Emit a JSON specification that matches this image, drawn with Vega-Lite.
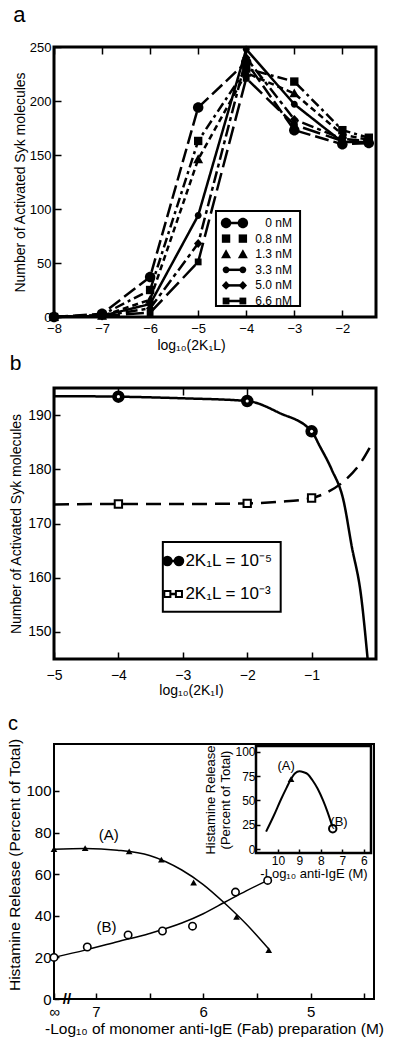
{
"$schema": "https://vega.github.io/schema/vega-lite/v6.json",
"padding": {"left": 7, "top": 2, "right": 0, "bottom": 0},
"config": {
  "font": "Liberation Sans",
  "view": {"stroke": "black", "strokeWidth": 3},
  "axis": {"grid": false, "domain": false, "labelFlush": false, "labelOverlap": false, "tickColor": "black", "tickWidth": 1.5, "labelColor": "black", "titleColor": "black", "titleFontWeight": "normal", "labelFont": "Liberation Sans", "titleFont": "Liberation Sans"},
  "title": {"fontWeight": "normal", "anchor": "start", "color": "black", "font": "Liberation Sans"}
},
"datasets": {
  "a": [
    {"series": "0 nM", "x": -8, "y": 0}, {"series": "0 nM", "x": -7, "y": 3}, {"series": "0 nM", "x": -6, "y": 37}, {"series": "0 nM", "x": -5, "y": 194}, {"series": "0 nM", "x": -4, "y": 236}, {"series": "0 nM", "x": -3, "y": 173}, {"series": "0 nM", "x": -2, "y": 160}, {"series": "0 nM", "x": -1.45, "y": 161},
    {"series": "0.8 nM", "x": -8, "y": 0}, {"series": "0.8 nM", "x": -7, "y": 2}, {"series": "0.8 nM", "x": -6, "y": 25}, {"series": "0.8 nM", "x": -5, "y": 163}, {"series": "0.8 nM", "x": -4, "y": 230}, {"series": "0.8 nM", "x": -3, "y": 218}, {"series": "0.8 nM", "x": -2, "y": 173}, {"series": "0.8 nM", "x": -1.45, "y": 166},
    {"series": "1.3 nM", "x": -8, "y": 0}, {"series": "1.3 nM", "x": -7, "y": 1}, {"series": "1.3 nM", "x": -6, "y": 16}, {"series": "1.3 nM", "x": -5, "y": 146}, {"series": "1.3 nM", "x": -4, "y": 226}, {"series": "1.3 nM", "x": -3, "y": 207}, {"series": "1.3 nM", "x": -2, "y": 169}, {"series": "1.3 nM", "x": -1.45, "y": 164},
    {"series": "3.3 nM", "x": -8, "y": 0}, {"series": "3.3 nM", "x": -7, "y": 1}, {"series": "3.3 nM", "x": -6, "y": 12}, {"series": "3.3 nM", "x": -5, "y": 94}, {"series": "3.3 nM", "x": -4, "y": 248}, {"series": "3.3 nM", "x": -3, "y": 197}, {"series": "3.3 nM", "x": -2, "y": 162}, {"series": "3.3 nM", "x": -1.45, "y": 162},
    {"series": "5.0 nM", "x": -8, "y": 0}, {"series": "5.0 nM", "x": -7, "y": 1}, {"series": "5.0 nM", "x": -6, "y": 8}, {"series": "5.0 nM", "x": -5, "y": 68}, {"series": "5.0 nM", "x": -4, "y": 240}, {"series": "5.0 nM", "x": -3, "y": 183}, {"series": "5.0 nM", "x": -2, "y": 165}, {"series": "5.0 nM", "x": -1.45, "y": 163},
    {"series": "6.6 nM", "x": -8, "y": 0}, {"series": "6.6 nM", "x": -7, "y": 1}, {"series": "6.6 nM", "x": -6, "y": 4}, {"series": "6.6 nM", "x": -5, "y": 51}, {"series": "6.6 nM", "x": -4, "y": 221}, {"series": "6.6 nM", "x": -3, "y": 178}, {"series": "6.6 nM", "x": -2, "y": 163}, {"series": "6.6 nM", "x": -1.45, "y": 161}
  ],
  "a_legend": [
    {"series": "0 nM"}, {"series": "0.8 nM"}, {"series": "1.3 nM"}, {"series": "3.3 nM"}, {"series": "5.0 nM"}, {"series": "6.6 nM"}
  ],
  "b_lines": [
    {"series": "2K₁L = 10⁻⁵", "x": -5, "y": 193.5}, {"series": "2K₁L = 10⁻⁵", "x": -4, "y": 193.4}, {"series": "2K₁L = 10⁻⁵", "x": -3, "y": 193.1}, {"series": "2K₁L = 10⁻⁵", "x": -2, "y": 192.6}, {"series": "2K₁L = 10⁻⁵", "x": -1.5, "y": 190.4}, {"series": "2K₁L = 10⁻⁵", "x": -1, "y": 187}, {"series": "2K₁L = 10⁻⁵", "x": -0.87, "y": 184.2}, {"series": "2K₁L = 10⁻⁵", "x": -0.69, "y": 180}, {"series": "2K₁L = 10⁻⁵", "x": -0.5, "y": 174}, {"series": "2K₁L = 10⁻⁵", "x": -0.38, "y": 166}, {"series": "2K₁L = 10⁻⁵", "x": -0.23, "y": 156.5}, {"series": "2K₁L = 10⁻⁵", "x": -0.13, "y": 145},
    {"series": "2K₁L = 10⁻³", "x": -5, "y": 173.5}, {"series": "2K₁L = 10⁻³", "x": -4, "y": 173.6}, {"series": "2K₁L = 10⁻³", "x": -3, "y": 173.6}, {"series": "2K₁L = 10⁻³", "x": -2, "y": 173.7}, {"series": "2K₁L = 10⁻³", "x": -1.5, "y": 174}, {"series": "2K₁L = 10⁻³", "x": -1, "y": 174.7}, {"series": "2K₁L = 10⁻³", "x": -0.75, "y": 175.8}, {"series": "2K₁L = 10⁻³", "x": -0.48, "y": 178}, {"series": "2K₁L = 10⁻³", "x": -0.25, "y": 181}, {"series": "2K₁L = 10⁻³", "x": -0.05, "y": 185}
  ],
  "b_points": [
    {"series": "2K₁L = 10⁻⁵", "x": -4, "y": 193.4}, {"series": "2K₁L = 10⁻⁵", "x": -2, "y": 192.6}, {"series": "2K₁L = 10⁻⁵", "x": -1, "y": 187},
    {"series": "2K₁L = 10⁻³", "x": -4, "y": 173.6}, {"series": "2K₁L = 10⁻³", "x": -2, "y": 173.7}, {"series": "2K₁L = 10⁻³", "x": -1, "y": 174.7}
  ],
  "b_legend": [
    {"series": "2K₁L = 10⁻⁵"}, {"series": "2K₁L = 10⁻³"}
  ],
  "c_curves": [
    {"curve": "A", "x": 7.39, "y": 72}, {"curve": "A", "x": 7.1, "y": 72.3}, {"curve": "A", "x": 6.8, "y": 71.5}, {"curve": "A", "x": 6.5, "y": 69}, {"curve": "A", "x": 6.2, "y": 62}, {"curve": "A", "x": 6.0, "y": 55}, {"curve": "A", "x": 5.8, "y": 46}, {"curve": "A", "x": 5.6, "y": 36}, {"curve": "A", "x": 5.39, "y": 24},
    {"curve": "B", "x": 7.39, "y": 20}, {"curve": "B", "x": 7.1, "y": 23.5}, {"curve": "B", "x": 6.8, "y": 27.5}, {"curve": "B", "x": 6.5, "y": 31.5}, {"curve": "B", "x": 6.2, "y": 36.5}, {"curve": "B", "x": 6.0, "y": 41}, {"curve": "B", "x": 5.8, "y": 46.5}, {"curve": "B", "x": 5.6, "y": 52}, {"curve": "B", "x": 5.4, "y": 57}
  ],
  "c_points": [
    {"series": "A", "x": 7.39, "y": 72}, {"series": "A", "x": 7.1, "y": 72.5}, {"series": "A", "x": 6.69, "y": 71}, {"series": "A", "x": 6.39, "y": 67}, {"series": "A", "x": 6.09, "y": 56}, {"series": "A", "x": 5.69, "y": 39.5}, {"series": "A", "x": 5.39, "y": 23.5},
    {"series": "B", "x": 7.39, "y": 20}, {"series": "B", "x": 7.08, "y": 25}, {"series": "B", "x": 6.7, "y": 30.8}, {"series": "B", "x": 6.38, "y": 32.7}, {"series": "B", "x": 6.1, "y": 35}, {"series": "B", "x": 5.7, "y": 51.4}, {"series": "B", "x": 5.4, "y": 57}
  ],
  "c_labels": [
    {"label": "(A)", "x": 6.88, "y": 78.8}, {"label": "(B)", "x": 6.9, "y": 34.6}
  ],
  "ins_curve": [
    {"x": 10.55, "y": 18}, {"x": 10.2, "y": 34}, {"x": 9.86, "y": 51}, {"x": 9.6, "y": 63}, {"x": 9.39, "y": 72}, {"x": 9.2, "y": 78}, {"x": 9.0, "y": 80}, {"x": 8.8, "y": 79}, {"x": 8.61, "y": 77}, {"x": 8.4, "y": 71}, {"x": 8.15, "y": 62}, {"x": 7.9, "y": 50}, {"x": 7.69, "y": 38}, {"x": 7.45, "y": 22}
  ],
  "ins_points": [
    {"series": "A", "x": 9.39, "y": 72}, {"series": "B", "x": 7.45, "y": 21}
  ],
  "ins_labels": [
    {"label": "(A)", "x": 9.62, "y": 85}, {"label": "(B)", "x": 7.16, "y": 28}
  ]
},
"spacing": 71,
"bounds": "flush",
"resolve": {"scale": {"shape": "independent", "fill": "independent", "strokeDash": "independent"}},
"vconcat": [
  {
    "width": 322, "height": 270,
    "title": {"text": "a", "fontSize": 22, "baseline": "middle", "offset": 4},
    "layer": [
      {
        "data": {"name": "a"},
        "layer": [
          {
            "data": {"values": [{}]},
            "mark": {"type": "rect", "fill": "white", "stroke": "black", "strokeWidth": 2},
            "encoding": {
              "x": {"datum": -4.63, "type": "quantitative", "axis": null},
              "x2": {"datum": -2.88},
              "y": {"datum": 10.2, "type": "quantitative"},
              "y2": {"datum": 98.1}
            }
          },
          {
            "mark": {"type": "line", "strokeWidth": 2.5, "color": "black"},
            "encoding": {
              "x": {"field": "x", "type": "quantitative", "scale": {"domain": [-8, -1.3], "nice": false, "zero": false},
                    "axis": {"orient": "bottom", "values": [-8, -7, -6, -5, -4, -3, -2], "offset": -7, "tickSize": 7, "labelPadding": 5, "labelFontSize": 13, "title": "log₁₀(2K₁L)", "titleFontSize": 14, "titleX": 137, "titlePadding": 3}},
              "y": {"field": "y", "type": "quantitative", "scale": {"domain": [0, 250], "nice": false},
                    "axis": {"values": [0, 25, 50, 75, 100, 125, 150, 175, 200, 225, 250], "labelExpr": "datum.value % 50 == 0 ? datum.label : ''", "offset": -7, "tickSize": 7, "labelPadding": 3, "labelFontSize": 13, "title": "Number of Activated Syk molecules", "titleFontSize": 14, "titlePadding": 2}},
              "strokeDash": {"field": "series", "type": "nominal",
                    "scale": {"domain": ["0 nM", "0.8 nM", "1.3 nM", "3.3 nM", "5.0 nM", "6.6 nM"], "range": [[14, 5], [10, 4, 3, 4], [6, 4], [1, 0], [12, 4, 4, 4], [18, 6]]}, "legend": null}
            }
          },
          {
            "mark": {"type": "point", "filled": true, "color": "black", "opacity": 1, "size": 110},
            "encoding": {
              "x": {"field": "x", "type": "quantitative", "axis": {"orient": "top", "values": [-8, -7, -6, -5, -4, -3, -2], "labels": false, "title": null, "offset": -7, "tickSize": 7}},
              "y": {"field": "y", "type": "quantitative"},
              "shape": {"field": "series", "type": "nominal",
                    "scale": {"domain": ["0 nM", "0.8 nM", "1.3 nM", "3.3 nM", "5.0 nM", "6.6 nM"],
                              "range": ["M1,0A1,1,0,1,1,-1,0A1,1,0,1,1,1,0Z", "M-0.8,-0.8H0.8V0.8H-0.8Z", "M0,-0.95L0.95,0.75H-0.95Z", "M0.65,0A0.65,0.65,0,1,1,-0.65,0A0.65,0.65,0,1,1,0.65,0Z", "M0,-0.85L0.8,0L0,0.85L-0.8,0Z", "M-0.65,-0.65H0.65V0.65H-0.65Z"]},
                    "legend": null}
            }
          }
        ],
        "resolve": {"axis": {"x": "independent"}}
      },
      {
        "data": {"name": "a_legend"},
        "encoding": {
          "y": {"field": "series", "type": "nominal", "axis": null, "sort": null,
                "scale": {"type": "point", "domain": ["0 nM", "0.8 nM", "1.3 nM", "3.3 nM", "5.0 nM", "6.6 nM"], "range": [176, 254], "padding": 0}}
        },
        "layer": [
          {
            "transform": [{"filter": "datum.series != '0.8 nM' && datum.series != '1.3 nM'"}],
            "mark": {"type": "rule", "strokeWidth": 2.5, "color": "black"},
            "encoding": {"x": {"datum": -4.42, "type": "quantitative", "axis": null}, "x2": {"datum": -4.07}}
          },
          {
            "mark": {"type": "point", "filled": true, "color": "black", "opacity": 1, "size": 110},
            "encoding": {"x": {"datum": -4.42, "type": "quantitative"}, "shape": {"field": "series", "type": "nominal", "legend": null}}
          },
          {
            "mark": {"type": "point", "filled": true, "color": "black", "opacity": 1, "size": 110},
            "encoding": {"x": {"datum": -4.07, "type": "quantitative"}, "shape": {"field": "series", "type": "nominal", "legend": null}}
          },
          {
            "mark": {"type": "text", "align": "right", "fontSize": 12, "color": "black"},
            "encoding": {"x": {"datum": -3.05, "type": "quantitative"}, "text": {"field": "series"}}
          }
        ]
      }
    ],
    "resolve": {"scale": {"y": "independent"}, "axis": {"x": "independent", "y": "independent"}}
  },
  {
    "width": 322, "height": 271,
    "title": {"text": "b", "fontSize": 21, "baseline": "middle", "offset": 2},
    "layer": [
      {
        "layer": [
          {
            "data": {"values": [{}]},
            "mark": {"type": "rect", "fill": "white", "stroke": "black", "strokeWidth": 2},
            "encoding": {
              "x": {"datum": -3.31, "type": "quantitative", "axis": null},
              "x2": {"datum": -1.48},
              "y": {"datum": 153.7, "type": "quantitative"},
              "y2": {"datum": 166.6}
            }
          },
          {
            "data": {"name": "b_lines"},
            "mark": {"type": "line", "strokeWidth": 2.5, "color": "black", "interpolate": "monotone", "clip": true},
            "encoding": {
              "x": {"field": "x", "type": "quantitative", "scale": {"domain": [-5, 0], "nice": false, "zero": false},
                    "axis": {"orient": "bottom", "values": [-5, -4, -3, -2, -1], "offset": -7, "tickSize": 7, "labelPadding": 9, "labelFontSize": 14, "title": "log₁₀(2K₁I)", "titleFontSize": 14, "titleX": 137, "titlePadding": 1}},
              "y": {"field": "y", "type": "quantitative", "scale": {"domain": [145, 195], "nice": false, "zero": false},
                    "axis": {"values": [150, 160, 170, 180, 190], "offset": -6, "tickSize": 6, "labelPadding": 3, "labelFontSize": 14, "title": "Number of Activated Syk molecules", "titleFontSize": 14, "titlePadding": 4}},
              "strokeDash": {"field": "series", "type": "nominal", "scale": {"domain": ["2K₁L = 10⁻⁵", "2K₁L = 10⁻³"], "range": [[1, 0], [15, 8]]}, "legend": null}
            }
          },
          {
            "data": {"name": "b_points"},
            "mark": {"type": "point", "opacity": 1, "strokeWidth": 2, "stroke": "black", "size": 110},
            "encoding": {
              "x": {"field": "x", "type": "quantitative", "axis": {"orient": "top", "values": [-5, -4, -3, -2, -1], "labels": false, "title": null, "offset": -7, "tickSize": 7}},
              "y": {"field": "y", "type": "quantitative"},
              "shape": {"field": "series", "type": "nominal", "scale": {"domain": ["2K₁L = 10⁻⁵", "2K₁L = 10⁻³"], "range": ["M1,0A1,1,0,1,1,-1,0A1,1,0,1,1,1,0Z", "M-0.7,-0.7H0.7V0.7H-0.7Z"]}, "legend": null},
              "fill": {"field": "series", "type": "nominal", "scale": {"domain": ["2K₁L = 10⁻⁵", "2K₁L = 10⁻³"], "range": ["black", "white"]}, "legend": null}
            }
          },
          {
            "data": {"name": "b_points"},
            "transform": [{"filter": "datum.series == '2K₁L = 10⁻⁵'"}],
            "mark": {"type": "point", "filled": true, "color": "white", "opacity": 1, "size": 10},
            "encoding": {
              "x": {"field": "x", "type": "quantitative", "axis": null},
              "y": {"field": "y", "type": "quantitative"}
            }
          }
        ],
        "resolve": {"axis": {"x": "independent"}}
      },
      {
        "data": {"name": "b_legend"},
        "encoding": {
          "y": {"field": "series", "type": "nominal", "axis": null, "sort": null,
                "scale": {"type": "point", "domain": ["2K₁L = 10⁻⁵", "2K₁L = 10⁻³"], "range": [173, 206], "padding": 0}}
        },
        "layer": [
          {
            "mark": {"type": "rule", "strokeWidth": 2.5, "color": "black"},
            "encoding": {"x": {"datum": -3.24, "type": "quantitative", "axis": null}, "x2": {"datum": -3.06}}
          },
          {
            "mark": {"type": "point", "opacity": 1, "strokeWidth": 2, "stroke": "black", "size": 75},
            "encoding": {"x": {"datum": -3.24, "type": "quantitative"}, "shape": {"field": "series", "type": "nominal", "legend": null}, "fill": {"field": "series", "type": "nominal", "legend": null}}
          },
          {
            "mark": {"type": "point", "opacity": 1, "strokeWidth": 2, "stroke": "black", "size": 75},
            "encoding": {"x": {"datum": -3.06, "type": "quantitative"}, "shape": {"field": "series", "type": "nominal", "legend": null}, "fill": {"field": "series", "type": "nominal", "legend": null}}
          },
          {
            "mark": {"type": "text", "align": "left", "fontSize": 17, "color": "black"},
            "encoding": {"x": {"datum": -2.96, "type": "quantitative"}, "text": {"field": "series"}}
          }
        ]
      }
    ],
    "resolve": {"scale": {"y": "independent"}, "axis": {"x": "independent", "y": "independent"}}
  },
  {
    "width": 320, "height": 269,
    "title": {"text": "c", "fontSize": 20, "baseline": "middle", "offset": -14},
    "view": {"stroke": null},
    "layer": [
      {
        "layer": [
          {
            "data": {"name": "c_curves"},
            "mark": {"type": "line", "strokeWidth": 1.5, "color": "black", "interpolate": "monotone"},
            "encoding": {
              "x": {"field": "x", "type": "quantitative", "scale": {"domain": [4.41, 7.39], "reverse": true, "nice": false, "zero": false},
                    "axis": {"orient": "bottom", "values": [7.39, 7, 6.5, 6, 5.5, 5, 4.5], "labelExpr": "datum.value == 7.39 ? '∞' : (datum.value % 1 == 0 ? format(datum.value, 'd') : '')", "offset": -6, "tickSize": 6, "labelPadding": 5, "labelFontSize": 15, "title": "-Log₁₀ of monomer anti-IgE (Fab) preparation (M)", "titleFontSize": 15.5, "titlePadding": 2}},
              "y": {"field": "y", "type": "quantitative", "scale": {"domain": [0, 129.3], "nice": false, "zero": false},
                    "axis": {"orient": "left", "values": [0, 20, 40, 60, 80, 100], "offset": -5, "tickSize": 5, "labelPadding": 3, "labelFontSize": 15, "title": "Histamine Release (Percent of Total)", "titleFontSize": 15.5, "titlePadding": 3}},
              "detail": {"field": "curve", "type": "nominal"}
            }
          },
          {
            "data": {"values": [{}]},
            "mark": {"type": "rect", "fill": null, "fillOpacity": 0, "stroke": "black", "strokeWidth": 2},
            "encoding": {
              "x": {"datum": 7.39, "type": "quantitative"},
              "x2": {"datum": 4.41},
              "y": {"datum": 0, "type": "quantitative"},
              "y2": {"datum": 122.6}
            }
          },
          {
            "data": {"name": "c_points"},
            "transform": [{"filter": "datum.series == 'A'"}],
            "mark": {"type": "point", "shape": "triangle-up", "filled": true, "color": "black", "opacity": 1, "size": 45},
            "encoding": {
              "x": {"field": "x", "type": "quantitative"},
              "y": {"field": "y", "type": "quantitative"}
            }
          },
          {
            "data": {"name": "c_points"},
            "transform": [{"filter": "datum.series == 'B'"}],
            "mark": {"type": "point", "shape": "circle", "fill": "white", "stroke": "black", "strokeWidth": 1.6, "opacity": 1, "size": 55},
            "encoding": {
              "x": {"field": "x", "type": "quantitative"},
              "y": {"field": "y", "type": "quantitative"}
            }
          },
          {
            "data": {"name": "c_labels"},
            "mark": {"type": "text", "fontSize": 15, "color": "black"},
            "encoding": {
              "x": {"field": "x", "type": "quantitative"},
              "y": {"field": "y", "type": "quantitative"},
              "text": {"field": "label"}
            }
          },
          {
            "data": {"values": [{}]},
            "mark": {"type": "text", "text": "//", "fontSize": 15, "fontWeight": "bold", "color": "black"},
            "encoding": {
              "x": {"datum": 7.27, "type": "quantitative"},
              "y": {"datum": 0, "type": "quantitative"}
            }
          }
        ]
      },
      {
        "layer": [
          {
            "data": {"name": "ins_curve"},
            "mark": {"type": "line", "strokeWidth": 2, "color": "black", "interpolate": "monotone"},
            "encoding": {
              "x": {"field": "x", "type": "quantitative", "scale": {"domain": [5.67, 11.02], "range": [317, 202], "nice": false, "zero": false},
                    "axis": {"orient": "bottom", "offset": -150, "values": [10, 9, 8, 7, 6], "format": "d", "tickSize": 4, "labelPadding": 2, "labelFontSize": 12, "title": "-Log₁₀ anti-IgE (M)", "titleFontSize": 13, "titlePadding": 1}},
              "y": {"field": "y", "type": "quantitative", "scale": {"domain": [-4, 106], "range": [123, 16], "nice": false, "zero": false},
                    "axis": {"orient": "left", "offset": -206, "values": [0, 25, 50, 75, 100], "format": "d", "tickSize": 4, "labelPadding": 1, "labelFontSize": 12, "title": ["Histamine Release", "(Percent of Total)"], "titleFontSize": 13, "titleLineHeight": 15, "titlePadding": 2}}
            }
          },
          {
            "data": {"values": [{}]},
            "mark": {"type": "rect", "fill": null, "fillOpacity": 0, "stroke": "black", "strokeWidth": 2.5},
            "encoding": {
              "x": {"datum": 11.02, "type": "quantitative"},
              "x2": {"datum": 5.67},
              "y": {"datum": -4, "type": "quantitative"},
              "y2": {"datum": 106}
            }
          },
          {
            "data": {"name": "ins_points"},
            "transform": [{"filter": "datum.series == 'A'"}],
            "mark": {"type": "point", "shape": "triangle-up", "filled": true, "color": "black", "opacity": 1, "size": 45},
            "encoding": {
              "x": {"field": "x", "type": "quantitative"},
              "y": {"field": "y", "type": "quantitative"}
            }
          },
          {
            "data": {"name": "ins_points"},
            "transform": [{"filter": "datum.series == 'B'"}],
            "mark": {"type": "point", "shape": "circle", "fill": "white", "stroke": "black", "strokeWidth": 2, "opacity": 1, "size": 55},
            "encoding": {
              "x": {"field": "x", "type": "quantitative"},
              "y": {"field": "y", "type": "quantitative"}
            }
          },
          {
            "data": {"name": "ins_labels"},
            "mark": {"type": "text", "fontSize": 13, "color": "black"},
            "encoding": {
              "x": {"field": "x", "type": "quantitative"},
              "y": {"field": "y", "type": "quantitative"},
              "text": {"field": "label"}
            }
          }
        ]
      }
    ],
    "resolve": {"scale": {"x": "independent", "y": "independent"}}
  }
]
}
